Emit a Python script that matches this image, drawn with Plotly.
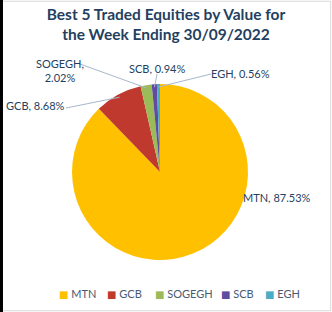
import math
import plotly.graph_objects as go

equities = ["MTN", "GCB", "SOGEGH", "SCB", "EGH"]
shares = [87.53, 8.68, 2.02, 0.94, 0.56]
colors = ["#FFC000", "#C0392F", "#9BBB59", "#5F4B9F", "#4BACC6"]
title_lines = ["Best 5 Traded Equities by Value for", "the Week Ending 30/09/2022"]

W, H = 332, 312
# pie placement (pixels): center and radius
CX, CY, R = 160, 172, 88

# label placement (pixels, layout only): x, y, anchor, leader start
label_pos = {
    "MTN": (313, 197, "right", None),
    "GCB": (35, 105, "center", (66, 108)),
    "SOGEGH": (60, 70, "center", (80, 64)),
    "SCB": (157, 68, "center", (157, 74)),
    "EGH": (240, 73, "center", (211, 74)),
}
# legend item left edges (pixels, layout only)
legend_x = [57, 105, 153, 219, 263]
legend_y = 293

def px(x):
    return x / W

def py(y):
    return 1 - y / H

fig = go.Figure(go.Pie(
    labels=equities,
    values=shares,
    sort=False,
    direction="clockwise",
    rotation=0,
    marker=dict(colors=colors, line=dict(color="rgba(0,0,0,0)", width=0)),
    textinfo="none",
    hoverinfo="label+percent",
    domain=dict(x=[px(CX - R), px(CX + R)], y=[py(CY + R), py(CY - R)]),
    showlegend=False,
))

total = sum(shares)
cum = 0.0
shapes = []
for i, (name, v) in enumerate(zip(equities, shares)):
    mid = (cum + v / 2) / total * 2 * math.pi
    cum += v
    tx, ty, anchor, start = label_pos[name]
    txt = f"{name}, {v:.2f}%" if name != "SOGEGH" else f"{name},<br>{v:.2f}%"
    fig.add_annotation(
        x=px(tx), y=py(ty), xref="paper", yref="paper", text=txt,
        showarrow=False, xanchor=anchor, yanchor="middle",
        font=dict(family="Lato", size=11, color="#243F60"),
    )
    if start is not None:
        ex = CX + (R - 3) * math.sin(mid)
        ey = CY - (R - 3) * math.cos(mid)
        shapes.append(dict(type="line", xref="paper", yref="paper",
                           x0=px(start[0]), y0=py(start[1]), x1=px(ex), y1=py(ey),
                           line=dict(color="#A9B7CC", width=1)))
    # legend entry
    fig.add_annotation(
        x=px(legend_x[i]), y=py(legend_y), xref="paper", yref="paper",
        text=f"<span style='color:{colors[i]};font-family:DejaVu Sans;font-size:10px'>■</span> {name}",
        showarrow=False, xanchor="left", yanchor="middle",
        font=dict(family="Lato", size=11, color="#4A5A70"),
    )

shapes += [
    dict(type="rect", xref="paper", yref="paper", x0=0.006, y0=0.004, x1=0.996, y1=0.996,
         line=dict(color="#D9D9D9", width=1)),
    dict(type="rect", xref="paper", yref="paper", x0=0, y0=0, x1=0.009, y1=1,
         line=dict(width=0), fillcolor="black"),
]

fig.update_layout(
    width=W, height=H,
    margin=dict(l=0, r=0, t=0, b=0),
    paper_bgcolor="white",
    plot_bgcolor="white",
    title=dict(
        text="<br>".join(title_lines),
        x=0.5, xanchor="center", y=0.935, yanchor="top",
        font=dict(family="Lato", size=15.5, color="#243F60", weight="bold"),
    ),
    showlegend=False,
    shapes=shapes,
)

fig.write_html("out.html")
